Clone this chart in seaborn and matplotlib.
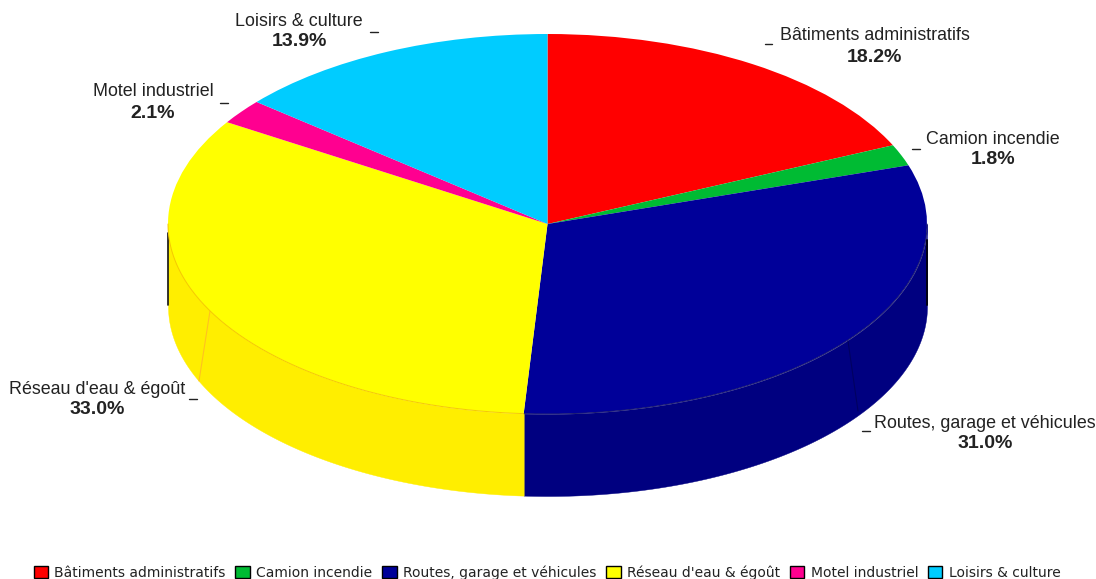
import matplotlib.pyplot as plt
from matplotlib.lines import Line2D
from matplotlib.patches import Patch
import numpy as np
import seaborn as sns

categories = ["Bâtiments administratifs", "Camion incendie", "Routes, garage et véhicules",
              "Réseau d'eau & égoût", "Motel industriel", "Loisirs & culture"]
shares = [18.2, 1.8, 31.0, 33.0, 2.1, 13.9]
top_colors = ["#FF0000", "#00BB33", "#000099", "#FFFF00", "#FF0090", "#00CCFF"]
wall_colors = ["#D00000", "#009A2A", "#000080", "#FFEE00", "#D00078", "#00AAD8"]

W, H = 1096, 579
CX, CY, RX, RY = 547.5, 224, 379.5, 190  # pie centre and radii, pixels
DEPTH = 82 / RY

sns.set_theme(style="white")
plt.rcParams["font.family"] = ["Liberation Sans", "DejaVu Sans"]

fig = plt.figure(figsize=(W / 100, H / 100), dpi=100)
ax = fig.add_axes([0, 0, 1, 1])

# Top of the pie: a normal pie, squashed afterwards by the axes limits
palette = sns.color_palette(top_colors)
ax.pie(shares, colors=palette, startangle=90, counterclock=False, radius=1,
       wedgeprops={"linewidth": 0, "zorder": 3})
ax.set_aspect("auto")
ax.set_xlim(-CX / RX, (W - CX) / RX)
ax.set_ylim((CY - H) / RY, CY / RY)

# Side wall, only the front half of the ellipse shows
edges = np.cumsum([0] + shares) / 100 * 2 * np.pi
for i, col in enumerate(wall_colors):
    a0 = max(edges[i], np.pi / 2)
    a1 = min(edges[i + 1], 3 * np.pi / 2)
    if a1 <= a0:
        continue
    t = np.linspace(a0, a1, 200)
    ax.fill_between(np.sin(t), np.cos(t), np.cos(t) - DEPTH, color=col, linewidth=0.3, zorder=1)

# Faint rim along the front of the top face
for i, col in [(2, "#1A1A70"), (3, "#F5C800")]:
    t = np.linspace(max(edges[i], np.pi / 2), min(edges[i + 1], 3 * np.pi / 2), 200)
    ax.plot(np.sin(t), np.cos(t), color=col, lw=0.7, zorder=4)

# Seams on the wall
ax.plot((np.array([210, 199]) - CX) / RX, (CY - np.array([311, 381])) / RY,
        color="#FFC020", lw=0.8, zorder=2)
ax.plot((np.array([848, 858]) - CX) / RX, (CY - np.array([341, 411])) / RY,
        color="#000060", lw=0.8, zorder=2)

# Black stubs where the wall meets the widest part of the ellipse
ax.plot([-1, -1], [-9 / RY, -DEPTH + 1 / RY], color="#101010", lw=1.2, zorder=2)
ax.plot([0.999, 0.999], [-16 / RY, -DEPTH + 1 / RY], color="#000010", lw=1.4, zorder=2)

# Labels: (centre x, name y, value y, tick x0, tick x1, tick y) in pixels
label_layout = [
    (874.5, 35, 57, 765, 772, 44),
    (993, 140, 160, 912, 920, 149),
    (985, 423, 443, 862, 870, 431),
    (97, 389, 410, 189, 197, 399),
    (153, 92, 113, 220, 228, 103),
    (299, 21, 42, 370, 378, 32),
]
for name, val, (x, y0, y1, t0, t1, ty) in zip(categories, shares, label_layout):
    fig.text(x / W, 1 - y0 / H, name, ha="center", va="center", fontsize=12.9, color="#222222")
    fig.text(x / W, 1 - y1 / H, f"{val:.1f}%", ha="center", va="center", fontsize=14,
             fontweight="bold", color="#222222")
    fig.add_artist(Line2D([t0 / W, t1 / W], [1 - ty / H, 1 - ty / H], color="#222222", lw=1))

handles = [Patch(facecolor=c, edgecolor="black", linewidth=1) for c in palette]
fig.legend(handles, categories, ncol=6, loc="center", bbox_to_anchor=(547 / W, 1 - 572.5 / H),
           frameon=False, prop={"family": "DejaVu Sans", "size": 10}, labelcolor="#222222",
           handlelength=1.05, handleheight=1.05, handletextpad=0.45, columnspacing=0.7,
           borderpad=0, borderaxespad=0)

fig.savefig("out.png", dpi=100)
